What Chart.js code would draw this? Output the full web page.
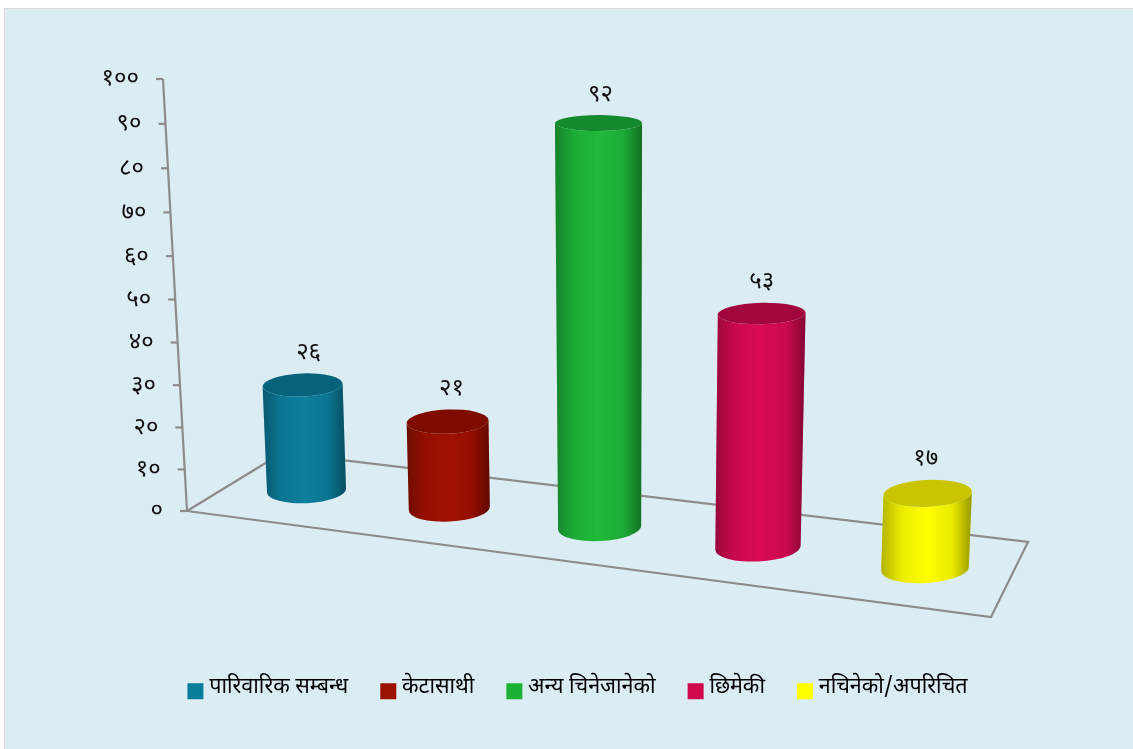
<!DOCTYPE html>
<html>
<head>
<meta charset="utf-8">
<title>chart</title>
<script src="https://cdn.jsdelivr.net/npm/chart.js@4"></script>
<style>
html, body { margin: 0; padding: 0; background: #fff; overflow: hidden; }
#panel { position: absolute; left: 4px; top: 8px; width: 1140px; height: 760px; background: #dbedf3; border: 1px solid #dcdcdc; }
#chart { position: absolute; left: 0; top: 0; }
</style>
</head>
<body>
<div id="panel"></div>
<canvas id="chart" width="1133" height="749"></canvas>
<script>
const categories = ['पारिवारिक सम्बन्ध', 'केटासाथी', 'अन्य चिनेजानेको', 'छिमेकी', 'नचिनेको/अपरिचित'];
const values = [26, 21, 92, 53, 17];
const valueLabels = ['२६', '२१', '९२', '५३', '१७'];
const tickLabels = ['०', '१०', '२०', '३०', '४०', '५०', '६०', '७०', '८०', '९०', '१००'];
const colors = ['#0a7d9c', '#9b1100', '#1ab135', '#d0094f', '#ffff00'];
const sideColors = ['#0c7f9f', '#a01000', '#1fba3b', '#db0a56', '#ffff00'];
const capColors = ['#07627c', '#7f0c00', '#15892d', '#a3053f', '#c9c500'];

const fontFamily = '"Noto Sans Devanagari","Lohit Devanagari","Noto Serif Devanagari","Noto Sans",serif';
const GRID = '#8c8c8c';

// corners of the plane the bars stand in: (t,v) = (first bar,0) (last bar,0) (last bar,100) (first bar,100)
const Q = [[306.5, 490.5], [925, 569], [941.5, 104], [291, 70]];
const H = (function () {
    const [p0, p1, p2, p3] = Q;
    const dx1 = p1[0] - p2[0], dx2 = p3[0] - p2[0], sx = p0[0] - p1[0] + p2[0] - p3[0];
    const dy1 = p1[1] - p2[1], dy2 = p3[1] - p2[1], sy = p0[1] - p1[1] + p2[1] - p3[1];
    const den = dx1 * dy2 - dx2 * dy1;
    const g = (sx * dy2 - dx2 * sy) / den, h = (dx1 * sy - sx * dy1) / den;
    return {
        a: p1[0] - p0[0] + g * p1[0], b: p3[0] - p0[0] + h * p3[0], c: p0[0],
        d: p1[1] - p0[1] + g * p1[1], e: p3[1] - p0[1] + h * p3[1], f: p0[1], g, h
    };
})();

function project(t, v) {
    const w = H.g * t + H.h * v + 1;
    return { x: (H.a * t + H.b * v + H.c) / w, y: (H.d * t + H.e * v + H.f) / w, depth: 1 / w };
}

// y axis line of the picture, slightly foreshortened
const axisBottom = [187, 511], axisTop = [163, 79], axisW = 1.0425;
function axisPoint(v) {
    const s = v / (v + axisW * (1 - v));
    return { x: axisBottom[0] + s * (axisTop[0] - axisBottom[0]), y: axisBottom[1] + s * (axisTop[1] - axisBottom[1]) };
}

function line(ctx, pts) {
    ctx.beginPath();
    pts.forEach((p, i) => i ? ctx.lineTo(p[0], p[1]) : ctx.moveTo(p[0], p[1]));
    ctx.stroke();
}

const cylinders = {
    id: 'cylinders',
    beforeDatasetsDraw(chart) {
        const ctx = chart.ctx, y = chart.scales.y;
        ctx.save();
        ctx.strokeStyle = GRID;
        ctx.lineWidth = 2.2;
        // floor
        line(ctx, [[187, 511], [991, 617], [1028, 542], [282, 453], [187, 511]]);
        // axis and ticks
        line(ctx, [axisTop, axisBottom]);
        ctx.fillStyle = '#111';
        ctx.font = '24px ' + fontFamily;
        ctx.textAlign = 'right';
        ctx.textBaseline = 'middle';
        y.ticks.forEach(tick => {
            const v = (y.bottom - y.getPixelForValue(tick.value)) / (y.bottom - y.top);
            const p = axisPoint(v);
            line(ctx, [[p.x - 7, p.y], [p.x, p.y]]);
            ctx.fillText(tick.label, p.x - 24, p.y + 2);
        });
        ctx.restore();
    },
    afterDatasetsDraw(chart) {
        const ctx = chart.ctx, x = chart.scales.x, y = chart.scales.y;
        const x0 = x.getPixelForValue(0), x1 = x.getPixelForValue(values.length - 1);
        chart.getDatasetMeta(0).data.forEach((bar, i) => {
            const t = (bar.x - x0) / (x1 - x0);
            const v = (y.bottom - bar.y) / (y.bottom - y.top);
            const base = project(t, 0), top = project(t, v);
            const rb = bar.width / 2 * 0.855 * base.depth, rt = bar.width / 2 * 0.855 * top.depth;
            const ryb = rb * 0.32, ryt = rt * (0.33 - 0.16 * v);
            const tilt = -0.05, tiltTop = -0.05 * (1 - v);

            ctx.save();
            ctx.beginPath();
            ctx.ellipse(top.x, top.y, rt, ryt, tiltTop, Math.PI, 0, true);
            ctx.ellipse(base.x, base.y, rb, ryb, tilt, 0, Math.PI);
            ctx.closePath();
            ctx.fillStyle = sideColors[i];
            ctx.fill();
            const shade = ctx.createLinearGradient(Math.min(base.x - rb, top.x - rt), 0, Math.max(base.x + rb, top.x + rt), 0);
            shade.addColorStop(0, 'rgba(0,0,0,0.3)');
            shade.addColorStop(0.22, 'rgba(0,0,0,0.08)');
            shade.addColorStop(0.5, 'rgba(0,0,0,0)');
            shade.addColorStop(0.78, 'rgba(0,0,0,0.08)');
            shade.addColorStop(1, 'rgba(0,0,0,0.4)');
            ctx.fillStyle = shade;
            ctx.fill();
            ctx.fillStyle = capColors[i];
            ctx.beginPath();
            ctx.ellipse(top.x, top.y, rt, ryt, tiltTop, 0, Math.PI * 2);
            ctx.fill();
            ctx.fillStyle = '#111';
            ctx.font = '24px ' + fontFamily;
            ctx.textAlign = 'center';
            ctx.textBaseline = 'middle';
            ctx.fillText(valueLabels[i], top.x + 6 - 8 * t, top.y - ryt - 19);
            ctx.restore();
        });
    },
    afterDraw(chart) {
        // legend squares sit closer to their text than the library leaves them
        const ctx = chart.ctx;
        chart.legend.legendHitBoxes.forEach((hit, i) => {
            ctx.fillStyle = colors[i];
            ctx.fillRect(hit.left, hit.top + hit.height / 2 - 6, 16, 16);
        });
    }
};

const chart = new Chart(document.getElementById('chart').getContext('2d'), {
    type: 'bar',
    data: {
        labels: categories,
        datasets: [{
            data: values,
            backgroundColor: 'transparent',
            borderWidth: 0,
            barPercentage: 0.416,
            categoryPercentage: 1
        }]
    },
    options: {
        responsive: false,
        animation: false,
        layout: { padding: { left: 22, right: 0, top: 10, bottom: 39 } },
        scales: {
            x: { display: false },
            y: {
                display: false,
                min: 0,
                max: 100,
                ticks: { stepSize: 10, autoSkip: false, callback: (val) => tickLabels[val / 10] }
            }
        },
        plugins: {
            tooltip: { enabled: false },
            legend: {
                position: 'bottom',
                labels: {
                    boxWidth: 11,
                    boxHeight: 11,
                    padding: 32,
                    color: '#222',
                    font: { family: fontFamily, size: 21.5 },
                    generateLabels: () => categories.map((c, i) => ({
                        text: c, fillStyle: 'transparent', strokeStyle: 'transparent', lineWidth: 0, index: i, datasetIndex: 0
                    }))
                }
            }
        }
    },
    plugins: [cylinders]
});
</script>
</body>
</html>
